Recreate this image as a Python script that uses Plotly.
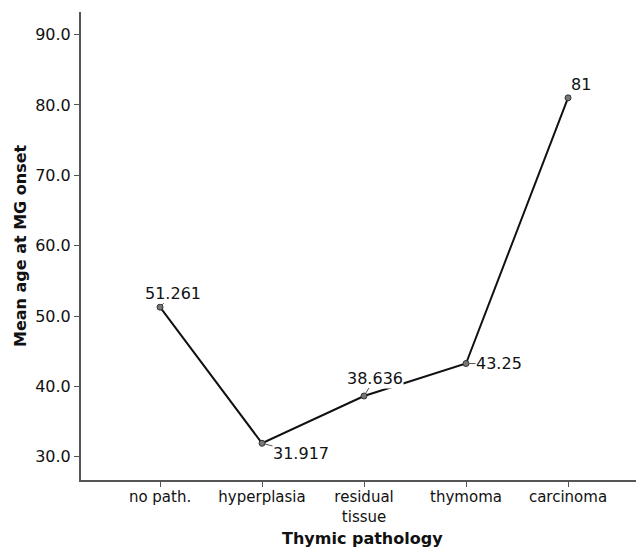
import plotly.graph_objects as go

categories = ["no path.", "hyperplasia", "residual<br>tissue", "thymoma", "carcinoma"]
mean_age = [51.261, 31.917, 38.636, 43.25, 81]
value_labels = ["51.261", "31.917", "38.636", "43.25", "81"]
y_ticks = [30, 40, 50, 60, 70, 80, 90]
y_tick_labels = ["30.0", "40.0", "50.0", "60.0", "70.0", "80.0", "90.0"]

# label offsets (pixels) relative to each point
label_dx = [13, 39, 11, 33, 13]
label_dy = [-14, 10, -18, 0, -13]

xi = list(range(len(categories)))

fig = go.Figure()
fig.add_trace(go.Scatter(
    x=xi, y=mean_age, mode="lines+markers",
    line=dict(color="#111111", width=2),
    marker=dict(size=6, color="#777777", line=dict(color="#333333", width=1)),
    showlegend=False, hoverinfo="skip",
))

for i, (v, t) in enumerate(zip(mean_age, value_labels)):
    fig.add_annotation(
        x=i, y=v, xref="x", yref="y", text=t,
        showarrow=True, arrowhead=0, arrowwidth=1, arrowcolor="#555555",
        ax=label_dx[i], ay=label_dy[i], standoff=3,
        bgcolor="white", borderpad=0,
        font=dict(family="DejaVu Sans", size=16, color="#111111"),
    )

# axis titles
fig.add_annotation(
    text="<b>Thymic pathology</b>", xref="paper", yref="paper",
    x=0.5, y=-0.126, xanchor="center", yanchor="middle", showarrow=False,
    font=dict(family="DejaVu Sans", size=16, color="#111111"),
)
fig.add_annotation(
    text="<b>Mean age at MG onset</b>", xref="paper", yref="paper",
    x=-0.1083, y=0.5, xanchor="center", yanchor="middle", showarrow=False,
    textangle=-90,
    font=dict(family="DejaVu Sans", size=16, color="#111111"),
)

fig.update_layout(
    width=636, height=539,
    margin=dict(l=73, r=0, t=4, b=67),
    paper_bgcolor="white", plot_bgcolor="white",
    font=dict(family="DejaVu Sans", size=16, color="#111111"),
    xaxis=dict(
        range=[-0.775, 4.745], tickmode="array", tickvals=xi, ticktext=categories,
        showgrid=False, zeroline=False, showline=True, linecolor="#555555", linewidth=2,
        ticks="outside", ticklen=5, tickcolor="#555555", tickwidth=1, automargin=False,
        tickfont=dict(size=15), ticklabelstandoff=-3,
    ),
    yaxis=dict(
        range=[26.7, 93.2], tickmode="array", tickvals=y_ticks, ticktext=y_tick_labels,
        showgrid=False, zeroline=False, showline=True, linecolor="#555555", linewidth=2,
        ticks="outside", ticklen=5, tickcolor="#555555", tickwidth=1, automargin=False,
    ),
)

fig.write_html("out.html")
